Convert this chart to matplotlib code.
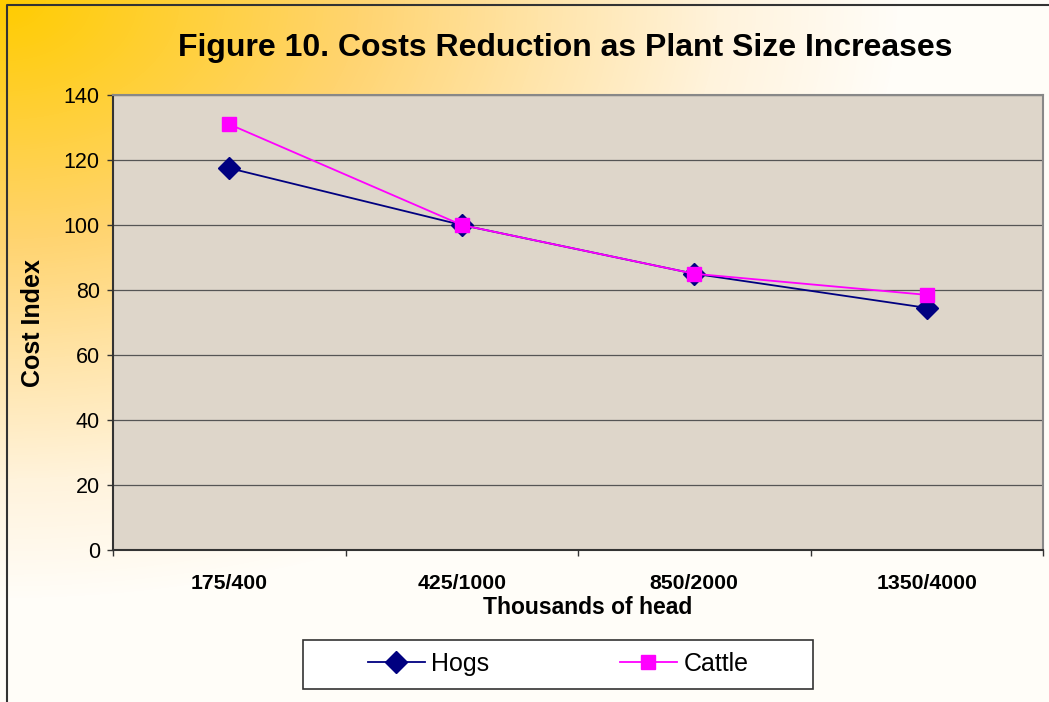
"""Line chart: cost index against plant size for hogs and cattle."""

from matplotlib.colors import LinearSegmentedColormap
from matplotlib.patches import Rectangle
import matplotlib.pyplot as plt
import numpy as np

plt.rcParams["font.family"] = ["Liberation Sans", "DejaVu Sans"]

categories = ["175/400", "425/1000", "850/2000", "1350/4000"]
hogs = [117.5, 100, 85, 74.5]
cattle = [131, 100, 85, 78.5]
y_ticks = [0, 20, 40, 60, 80, 100, 120, 140]

W, H = 1049, 702
fig = plt.figure(figsize=(W / 100, H / 100), dpi=100)

# Orange-to-white backdrop fading from the top-left corner
bg = fig.add_axes([0, 0, 1, 1], zorder=-10)
yy, xx = np.mgrid[0:H, 0:W]
t = np.clip(np.hypot(xx / 900, yy / 600), 0, 1)
cmap = LinearSegmentedColormap.from_list(
    "bg",
    [(0, "#FFCC00"), (0.4, "#FFD470"), (0.6, "#FFE4A8"), (0.8, "#FFF3DC"), (1, "#FFFDF8")],
)
bg.imshow(t, cmap=cmap, vmin=0, vmax=1, aspect="auto", extent=(0, W, H, 0))
bg.set_xlim(0, W)
bg.set_ylim(H, 0)
bg.axis("off")
bg.plot([7, 7, W], [H, 5, 5], color="#333333", lw=1.5)

ax = fig.add_axes([113 / W, 1 - 550 / H, 930 / W, 455 / H])
ax.set_facecolor("#DED6CA")

x = np.arange(len(categories))
ax.plot(x, hogs, color="#000080", marker="D", ms=11, lw=1.3, label="Hogs")
ax.plot(x, cattle, color="#FF00FF", marker="s", ms=9.5, lw=1.3, label="Cattle")

ax.set_xlim(-0.5, len(categories) - 0.5)
ax.set_ylim(0, 140)
ax.set_yticks(y_ticks)
ax.yaxis.grid(True, color="#555555", lw=0.9)
ax.set_axisbelow(True)

for side in ["top", "right"]:
    ax.spines[side].set_color("#888888")
    ax.spines[side].set_linewidth(1.5)
for side in ["left", "bottom"]:
    ax.spines[side].set_color("#333333")
    ax.spines[side].set_linewidth(1.5)

ax.tick_params(axis="y", direction="out", length=4.5, width=1, color="#333333",
               labelsize=15.5, pad=5)
ax.set_xticks(x)
ax.set_xticklabels(categories, fontsize=15.3, fontweight="bold")
ax.set_xticks(np.arange(-0.5, len(categories), 1), minor=True)
ax.tick_params(axis="x", which="major", length=0, pad=17)
ax.tick_params(axis="x", which="minor", direction="out", length=4.5, width=1,
               color="#333333")

fig.text(565 / W, 1 - 48 / H, "Figure 10. Costs Reduction as Plant Size Increases",
         ha="center", va="center", fontsize=23, fontweight="bold")
fig.text(33 / W, 1 - 323 / H, "Cost Index", rotation=90, ha="center", va="center",
         fontsize=18, fontweight="bold")
fig.text(588 / W, 1 - 607 / H, "Thousands of head", ha="center", va="center",
         fontsize=16.5, fontweight="bold")

# Legend box
fig.patches.append(Rectangle((303 / W, 1 - 689 / H), 510 / W, 49 / H,
                             transform=fig.transFigure, fc="white", ec="#333333",
                             lw=1.2, zorder=5))
handles, labels = ax.get_legend_handles_labels()
leg = fig.legend(handles, labels, loc="center", bbox_to_anchor=(558 / W, 1 - 664 / H),
                 ncol=2, frameon=False, fontsize=18, handlelength=2.3,
                 handletextpad=0.25, columnspacing=5.2)
leg.set_zorder(6)

fig.savefig("out.png", dpi=100)
plt.close(fig)
